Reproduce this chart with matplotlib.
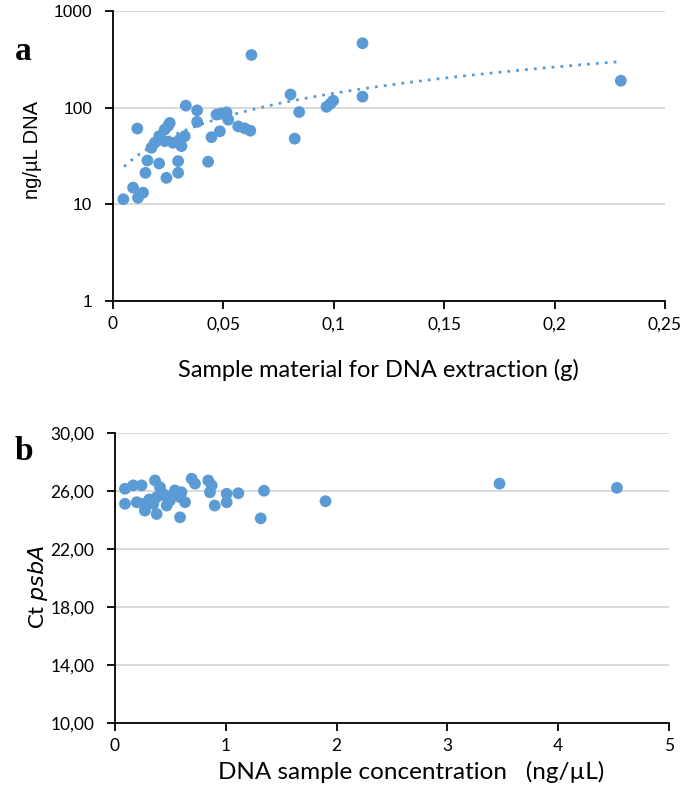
import numpy as np
import matplotlib
matplotlib.use("Agg")
import matplotlib.pyplot as plt

# ---- Panel a data ----
mass_g = [0.0047, 0.0091, 0.0113, 0.0136, 0.011, 0.0147, 0.0156, 0.0209, 0.0242, 0.0295,
          0.0295, 0.0174, 0.0189, 0.0209, 0.0234, 0.0257, 0.025, 0.0234, 0.0272, 0.031,
          0.0302, 0.0325, 0.033, 0.0381, 0.0381, 0.0431, 0.0446, 0.0484, 0.0469, 0.0514,
          0.0522, 0.0567, 0.049, 0.0597, 0.0622, 0.0627, 0.0804, 0.0823, 0.0843, 0.0967,
          0.0985, 0.0997, 0.113, 0.113, 0.230]
dna_ng = [11.3, 14.9, 11.7, 13.2, 60.8, 21.2, 28.4, 26.5, 18.8, 21.2,
          28.0, 38.5, 43.3, 50.7, 59.3, 69.5, 65.0, 45.0, 43.3, 40.0,
          46.8, 50.7, 105, 93.8, 71.3, 27.6, 49.5, 57.0, 84.8, 89.5,
          75.0, 64.0, 87.0, 61.0, 57.8, 351, 137, 47.8, 90.0, 102,
          110, 118, 464, 130, 190]
trend_x_ends = [0.005, 0.23]
trend_y_ends = [24.5, 300.0]

# ---- Panel b data ----
conc = [0.09, 0.09, 0.165, 0.24, 0.256, 0.27, 0.196, 0.361, 0.406, 0.376,
        0.346, 0.376, 0.451, 0.466, 0.496, 0.541, 0.587, 0.632, 0.587, 0.692,
        0.722, 0.842, 0.873, 0.857, 0.90, 1.008, 1.008, 1.113, 1.345, 1.315,
        1.90, 3.47, 4.53, 0.43, 0.52, 0.60, 0.31]
ct = [26.14, 25.10, 26.37, 26.37, 25.10, 24.63, 25.21, 26.71, 26.25, 25.56,
      25.10, 24.40, 25.67, 24.98, 25.33, 26.02, 25.56, 25.21, 24.17, 26.83,
      26.49, 26.71, 26.37, 25.90, 24.98, 25.79, 25.21, 25.83, 26.00, 24.10,
      25.28, 26.49, 26.20, 25.80, 25.70, 25.90, 25.40]

xa_ticks = [0, 0.05, 0.1, 0.15, 0.2, 0.25]
xa_labels = ["0", "0,05", "0,1", "0,15", "0,2", "0,25"]
ya_ticks = [1, 10, 100, 1000]
ya_labels = ["1", "10", "100", "1000"]
xb_ticks = [0, 1, 2, 3, 4, 5]
xb_labels = ["0", "1", "2", "3", "4", "5"]
yb_ticks = [10, 14, 18, 22, 26, 30]
yb_labels = ["10,00", "14,00", "18,00", "22,00", "26,00", "30,00"]

blue = "#5b9bd5"
grid_c = "#d9d9d9"
calib = "Lato"
tick_fs = 12.5

fig = plt.figure(figsize=(6.85, 8.09), dpi=100)

def style(ax):
    ax.spines["top"].set_visible(False)
    ax.spines["right"].set_visible(False)
    for s in ("left", "bottom"):
        ax.spines[s].set_color("black")
        ax.spines[s].set_linewidth(1.3)
    ax.yaxis.grid(True, color=grid_c, linewidth=1.4)
    ax.set_axisbelow(True)
    ax.tick_params(axis="both", direction="out", length=6, width=1.3, color="black", pad=5)

# Panel a
axa = fig.add_axes([113/685, 1-301/809, 552/685, 290/809])
style(axa)
axa.set_yscale("log")
axa.set_xlim(0, 0.25)
axa.set_ylim(1, 1000)
tx = np.linspace(trend_x_ends[0], trend_x_ends[1], 200)
slope = (trend_y_ends[1] - trend_y_ends[0]) / (trend_x_ends[1] - trend_x_ends[0])
ty = trend_y_ends[0] + slope * (tx - trend_x_ends[0])
axa.plot(tx, ty, color=blue, linewidth=2, linestyle=(0, (1, 2.2)), zorder=2)
axa.scatter(mass_g, dna_ng, s=72, color=blue, edgecolors="none", zorder=3)
axa.set_xticks(xa_ticks)
axa.set_xticklabels(xa_labels, fontsize=tick_fs, family=calib)
axa.set_yticks(ya_ticks)
axa.set_yticklabels(ya_labels, fontsize=12.5, family="Liberation Sans")
axa.tick_params(axis="y", pad=9)
axa.yaxis.set_minor_locator(matplotlib.ticker.NullLocator())
axa.set_xlabel("Sample material for DNA extraction (g)", fontsize=17, family=calib)
axa.xaxis.set_label_coords(0.48, -0.2)
axa.set_ylabel("ng/\u00b5L DNA", fontsize=14.5, family="Liberation Sans")
axa.yaxis.set_label_coords(-0.128, 0.52)
fig.text(15/685, 1-52/809, "a", fontsize=24, fontweight="bold", family="Liberation Serif",
         ha="left", va="center")

# Panel b
axb = fig.add_axes([115/685, 1-723/809, 554/685, 290.3/809])
style(axb)
axb.set_xlim(0, 5)
axb.set_ylim(10, 30)
axb.scatter(conc, ct, s=72, color=blue, edgecolors="none", zorder=3)
axb.set_xticks(xb_ticks)
axb.set_xticklabels(xb_labels, fontsize=tick_fs, family=calib)
axb.set_yticks(yb_ticks)
axb.set_yticklabels(yb_labels, fontsize=tick_fs, family=calib)
axb.tick_params(axis="y", pad=9)
axb.set_xlabel("DNA sample concentration   (ng/\u00b5L)", fontsize=17.5, family=calib)
axb.xaxis.set_label_coords(0.535, -0.13)
axb.set_ylabel("Ct $\\it{psbA}$", fontsize=16, family=calib)
axb.yaxis.set_label_coords(-0.118, 0.47)
fig.text(15/685, 1-452/809, "b", fontsize=24, fontweight="bold", family="Liberation Serif",
         ha="left", va="center")

fig.savefig("out.png", dpi=100)
